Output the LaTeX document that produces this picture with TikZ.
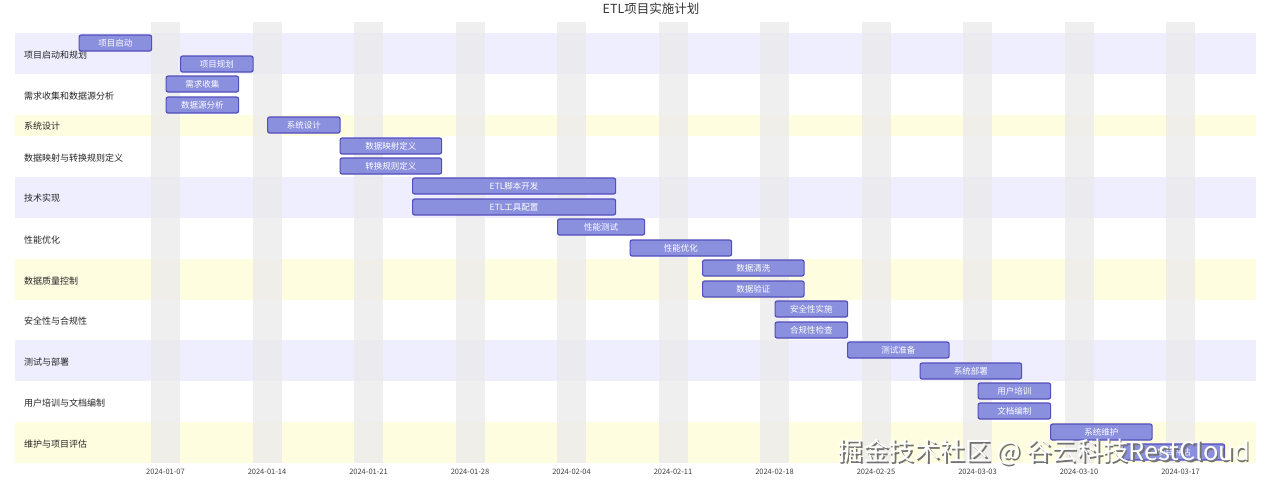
\documentclass[tikz,border=0pt]{standalone}
\usepackage{fontspec}
\setmainfont{Noto Sans CJK SC}
\definecolor{tfill}{HTML}{8A90DD}
\definecolor{tdraw}{HTML}{534FBC}
\definecolor{spur}{HTML}{EFEEFF}
\definecolor{syel}{HTML}{FFFDE0}
\definecolor{wkend}{HTML}{EBEBEB}
\tikzset{
 task/.style={draw=tdraw,fill=tfill,line width=1.2pt,rounded corners=2pt,text=white,font=\fontsize{8.5}{8.5}\selectfont,inner sep=0pt,anchor=west,minimum height=16pt},
 slabel/.style={anchor=west,font=\fontsize{9}{9}\selectfont,text=black!85,inner sep=0pt},
 tick/.style={font=\fontsize{7.5}{8}\selectfont,text=black!75,inner sep=0pt},
}
\newcommand{\dx}[1]{78.5+14.5*#1}
\newcommand{\tsk}[5]{\node[task,minimum width={14.5*(#3-#2)*1pt}] (#5) at ({\dx{#2}},#1) {#4};}
\begin{document}
\begin{tikzpicture}[x=1pt,y=-1pt]
\useasboundingbox (0,0) rectangle (1269,483);
\fill[white] (0,0) rectangle (1269,483);
% section bands
\fill[spur] (15,33) rectangle (1256,74);
\fill[syel] (15,115) rectangle (1256,136);
\fill[spur] (15,177) rectangle (1256,218);
\fill[syel] (15,259) rectangle (1256,300);
\fill[spur] (15,340) rectangle (1256,381);
\fill[syel] (15,422) rectangle (1256,463);
% weekends
\foreach \k in {0,...,10} {
  \fill[wkend,opacity=0.8] ({\dx{5}+101.5*\k},22) rectangle ({\dx{7}+101.5*\k},463);
}
% ticks
\foreach \k/\t in {0/2024-01-07,1/2024-01-14,2/2024-01-21,3/2024-01-28,4/2024-02-04,5/2024-02-11,6/2024-02-18,7/2024-02-25,8/2024-03-03,9/2024-03-10,10/2024-03-17}{
  \node[tick] (tk\k) at ({\dx{6}+101.5*\k},472) {\t};
}
\node[font=\fontsize{12.5}{12.5}\selectfont,text=black!80] (title) at (651,9) {ETL项目实施计划};
% section labels
\node[slabel] (s1) at (24,55) {项目启动和规划};
\node[slabel] (s2) at (24,96) {需求收集和数据源分析};
\node[slabel] (s3) at (24,126) {系统设计};
\node[slabel] (s4) at (24,158) {数据映射与转换规则定义};
\node[slabel] (s5) at (24,198) {技术实现};
\node[slabel] (s6) at (24,240) {性能优化};
\node[slabel] (s7) at (24,281) {数据质量控制};
\node[slabel] (s8) at (24,321) {安全性与合规性};
\node[slabel] (s9) at (24,362) {测试与部署};
\node[slabel] (s10) at (24,403) {用户培训与文档编制};
\node[slabel] (s11) at (24,444) {维护与项目评估};
% tasks
\tsk{43}{0}{5}{项目启动}{t1}
\tsk{64}{7}{12}{项目规划}{t2}
\tsk{84}{6}{11}{需求收集}{t3}
\tsk{105}{6}{11}{数据源分析}{t4}
\tsk{125}{13}{18}{系统设计}{t5}
\tsk{146}{18}{25}{数据映射定义}{t6}
\tsk{166}{18}{25}{转换规则定义}{t7}
\tsk{186}{23}{37}{ETL脚本开发}{t8}
\tsk{207}{23}{37}{ETL工具配置}{t9}
\tsk{227}{33}{39}{性能测试}{t10}
\tsk{248}{38}{45}{性能优化}{t11}
\tsk{268}{43}{50}{数据清洗}{t12}
\tsk{289}{43}{50}{数据验证}{t13}
\tsk{309}{48}{53}{安全性实施}{t14}
\tsk{330}{48}{53}{合规性检查}{t15}
\tsk{350}{53}{60}{测试准备}{t16}
\tsk{371}{58}{65}{系统部署}{t17}
\tsk{391}{62}{67}{用户培训}{t18}
\tsk{411}{62}{67}{文档编制}{t19}
\tsk{432}{67}{74}{系统维护}{t20}
\tsk{452}{72}{79}{项目评估}{t21}
% watermark
\node[font=\fontsize{25.5}{25.5}\selectfont,text=black!55,anchor=east,inner sep=0pt] (wms) at (1251.7,453.7) {掘金技术社区 @ 谷云科技RestCloud};
\node[font=\fontsize{25.5}{25.5}\selectfont,text=white,anchor=east,inner sep=0pt] (wm) at (1250,452) {掘金技术社区 @ 谷云科技RestCloud};
\end{tikzpicture}
\end{document}
